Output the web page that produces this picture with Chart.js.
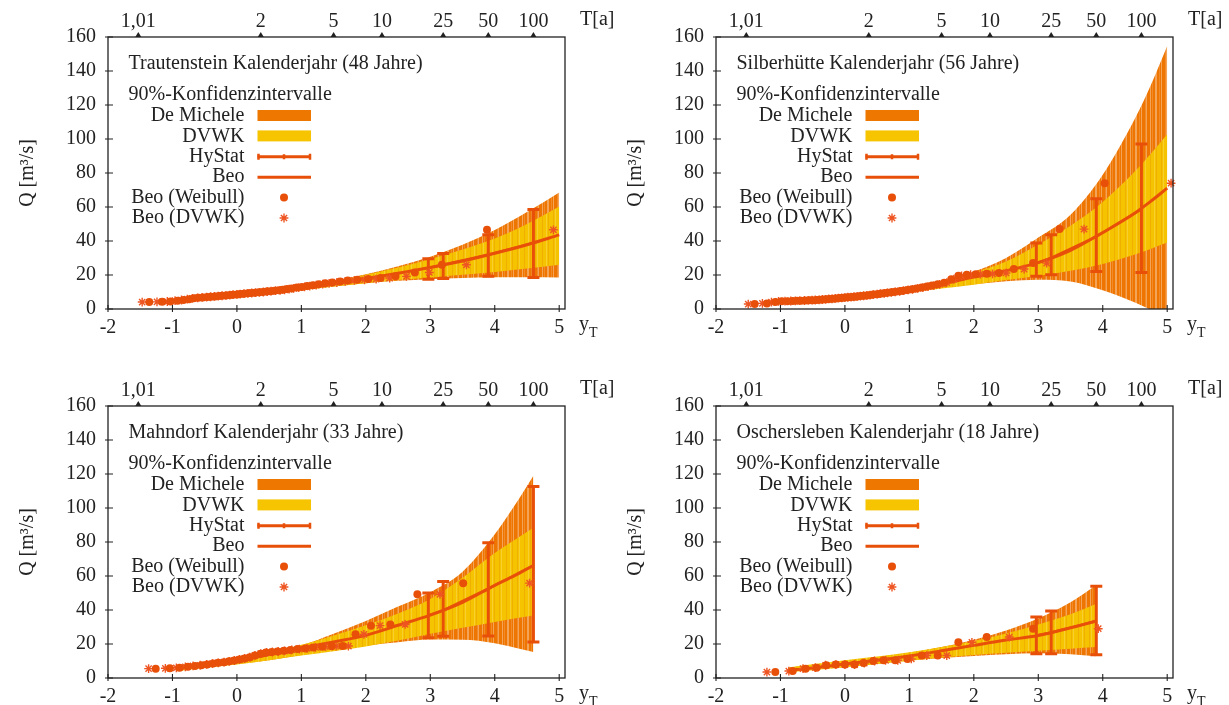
<!DOCTYPE html>
<html lang="de">
<head>
<meta charset="UTF-8">
<title>Hochwasserstatistik Kalenderjahr</title>
<script src="https://cdn.jsdelivr.net/npm/chart.js@4.4.1/dist/chart.umd.min.js"></script>
<style>
body { margin: 0; background: #fff; width: 1229px; height: 705px; position: relative; overflow: hidden; }
canvas { position: absolute; }
</style>
</head>
<body>
<canvas id="c1" width="614" height="369" style="left:0;top:0"></canvas>
<canvas id="c2" width="621" height="369" style="left:608px;top:0"></canvas>
<canvas id="c3" width="614" height="336" style="left:0;top:369px"></canvas>
<canvas id="c4" width="621" height="336" style="left:608px;top:369px"></canvas>
<script>
// Achsen
const xTicks = [-2, -1, 0, 1, 2, 3, 4, 5];
const yTicks = [0, 20, 40, 60, 80, 100, 120, 140, 160];
const returnPeriods = ['1,01', '2', '5', '10', '25', '50', '100'];
const returnPeriodPos = [-1.53, 0.37, 1.50, 2.25, 3.20, 3.90, 4.60];

// Trautenstein (48 Jahre)
const trTitle = 'Trautenstein Kalenderjahr (48 Jahre)';
const trQ = [4.1, 4.2, 4.4, 4.9, 5.3, 5.8, 6.3, 6.6, 6.8, 7.0, 7.2, 7.4, 7.6, 7.8, 8.0, 8.2, 8.4, 8.6, 8.8, 9.0,
  9.2, 9.4, 9.6, 9.8, 10.0, 10.3, 10.5, 10.8, 11.0, 11.3, 11.7, 12.1, 12.6, 13.0, 13.5, 14.0, 14.6, 15.1, 15.6, 16.2,
  16.8, 17.2, 17.6, 18.2, 19.2, 21.5, 26.0, 46.6];
const trWeibullX = [-1.36, -1.16, -1.03, -0.92, -0.83, -0.74, -0.67, -0.60, -0.53, -0.46, -0.40, -0.34, -0.28, -0.23,
  -0.17, -0.11, -0.06, 0.00, 0.05, 0.11, 0.17, 0.22, 0.28, 0.34, 0.40, 0.46, 0.52, 0.58, 0.65, 0.71, 0.78, 0.85, 0.93,
  1.01, 1.09, 1.18, 1.27, 1.37, 1.48, 1.60, 1.72, 1.87, 2.04, 2.23, 2.46, 2.76, 3.18, 3.88];
const trDvwkX = [-1.47, -1.24, -1.08, -0.96, -0.86, -0.77, -0.69, -0.61, -0.54, -0.47, -0.41, -0.35, -0.29, -0.23,
  -0.17, -0.11, -0.06, 0.00, 0.05, 0.11, 0.17, 0.23, 0.29, 0.35, 0.41, 0.47, 0.53, 0.60, 0.67, 0.74, 0.81, 0.88, 0.96,
  1.05, 1.13, 1.23, 1.33, 1.43, 1.55, 1.68, 1.82, 1.98, 2.16, 2.37, 2.63, 2.985, 3.56, 4.91];
const trCurveX = [-0.95, -0.5, 0, 0.5, 1, 1.5, 2, 2.5, 3, 3.5, 4, 4.5, 5];
const trBeo = [4.8, 6.6, 8.4, 10.2, 12.3, 14.9, 17.9, 21.0, 24.4, 28.2, 32.8, 37.8, 43.6];
const trDvwkHigh = [5.6, 7.4, 9.3, 11.2, 13.6, 16.6, 20.2, 24.4, 29.4, 35.0, 41.5, 50.0, 60.3];
const trDvwkLow = [3.9, 5.6, 7.4, 9.1, 11.0, 13.2, 15.2, 17.0, 18.6, 20.2, 21.8, 23.8, 26.0];
const trDmHigh = [5.4, 7.2, 9.1, 11.0, 13.5, 16.6, 20.5, 25.2, 30.8, 37.8, 46.5, 57.0, 68.5];
const trDmLow = [4.1, 5.8, 7.6, 9.3, 11.2, 13.3, 15.2, 16.6, 17.5, 18.2, 18.7, 18.7, 18.6];
const trHyX = [2.97, 3.20, 3.90, 4.60];
const trHyMid = [24.2, 26.0, 31.9, 38.9];
const trHyLow = [17.5, 18.0, 19.2, 18.6];
const trHyHigh = [29.6, 32.6, 43.7, 58.5];

// Silberhütte (56 Jahre)
const siTitle = 'Silberhütte Kalenderjahr (56 Jahre)';
const siQ = [2.9, 3.3, 4.1, 4.5, 4.6, 4.7, 4.8, 4.9, 5.0, 5.1, 5.2, 5.3, 5.4, 5.6, 5.7, 5.9, 6.0, 6.2, 6.4, 6.5,
  6.7, 6.9, 7.0, 7.2, 7.4, 7.6, 7.8, 8.0, 8.2, 8.5, 8.7, 9.0, 9.2, 9.5, 9.8, 10.1, 10.4, 10.8, 11.2, 11.6,
  12.1, 12.6, 13.2, 13.8, 14.5, 15.5, 17.5, 19.5, 20.2, 20.5, 20.7, 21.2, 23.5, 27.0, 47.0, 74.0];
const siWeibullX = [-1.40, -1.21, -1.08, -0.98, -0.89, -0.81, -0.74, -0.68, -0.61, -0.55, -0.50, -0.44, -0.39, -0.34,
  -0.29, -0.24, -0.19, -0.14, -0.09, -0.05, 0.00, 0.05, 0.10, 0.15, 0.19, 0.24, 0.29, 0.34, 0.39, 0.44, 0.50, 0.55,
  0.60, 0.66, 0.72, 0.78, 0.84, 0.90, 0.97, 1.04, 1.11, 1.19, 1.27, 1.35, 1.44, 1.54, 1.65, 1.76, 1.89, 2.03, 2.20,
  2.39, 2.62, 2.92, 3.33, 4.03];
const siDvwkX = [-1.50, -1.28, -1.14, -1.03, -0.93, -0.84, -0.77, -0.70, -0.63, -0.57, -0.51, -0.46, -0.40, -0.35,
  -0.30, -0.25, -0.20, -0.15, -0.10, -0.05, 0.00, 0.045, 0.095, 0.14, 0.19, 0.24, 0.29, 0.34, 0.39, 0.44, 0.50, 0.55,
  0.61, 0.66, 0.72, 0.78, 0.85, 0.91, 0.98, 1.05, 1.13, 1.21, 1.29, 1.38, 1.47, 1.58, 1.69, 1.81, 1.95, 2.10, 2.29,
  2.50, 2.78, 3.13, 3.71, 5.06];
const siCurveX = [-0.92, -0.5, 0, 0.5, 1, 1.5, 2, 2.5, 3, 3.5, 4, 4.5, 4.75, 5];
const siBeo = [4.5, 5.8, 7.4, 9.0, 11.3, 14.8, 18.8, 22.5, 27.3, 34.5, 45.0, 56.5, 63.5, 71.1];
const siDvwkHigh = [5.3, 6.6, 8.4, 10.4, 13.0, 16.5, 21.5, 28.0, 38.0, 49.0, 63.0, 81.0, 91.5, 102.8];
const siDvwkLow = [2.8, 4.4, 6.0, 7.6, 9.6, 12.0, 14.3, 17.0, 19.5, 22.5, 26.5, 32.0, 35.5, 39.1];
const siDmHigh = [5.0, 6.4, 8.0, 10.0, 12.8, 16.5, 22.0, 30.0, 42.0, 55.5, 79.0, 112.0, 132.0, 154.7];
const siDmLow = [3.0, 4.7, 6.3, 8.0, 10.0, 12.5, 14.5, 16.3, 17.2, 16.2, 11.0, 3.8, -0.5, -5.0];
const siHyX = [2.97, 3.20, 3.90, 4.60];
const siHyMid = [27.0, 30.0, 42.5, 58.7];
const siHyLow = [19.2, 20.2, 22.1, 21.5];
const siHyHigh = [38.8, 43.7, 64.8, 97.1];

// Mahndorf (33 Jahre)
const maTitle = 'Mahndorf Kalenderjahr (33 Jahre)';
const maQ = [5.5, 5.7, 6.0, 6.6, 7.1, 7.5, 8.0, 8.5, 8.9, 9.3, 9.8, 10.3, 10.9, 11.5, 12.2, 13.3, 14.3, 15.0, 15.3,
  15.6, 16.0, 16.5, 17.0, 17.4, 18.0, 18.4, 18.7, 18.8, 25.7, 30.8, 31.5, 49.2, 55.8];
const maWeibullX = [-1.26, -1.04, -0.89, -0.76, -0.65, -0.55, -0.46, -0.37, -0.29, -0.20, -0.12, -0.04, 0.04, 0.12,
  0.20, 0.28, 0.37, 0.45, 0.54, 0.63, 0.73, 0.83, 0.94, 1.06, 1.18, 1.32, 1.47, 1.64, 1.84, 2.08, 2.38, 2.80, 3.51];
const maDvwkX = [-1.37, -1.11, -0.94, -0.80, -0.68, -0.57, -0.47, -0.38, -0.29, -0.20, -0.12, -0.04, 0.04, 0.12,
  0.20, 0.28, 0.37, 0.46, 0.55, 0.64, 0.74, 0.85, 0.97, 1.09, 1.22, 1.37, 1.54, 1.73, 1.97, 2.22, 2.61, 3.15, 4.54];
const maCurveX = [-0.93, -0.5, 0, 0.5, 1, 1.5, 2, 2.5, 3, 3.5, 4, 4.3, 4.6];
const maBeo = [6.1, 8.0, 10.4, 13.8, 17.6, 21.2, 25.1, 31.0, 37.0, 44.5, 54.5, 60.0, 66.2];
const maDvwkHigh = [7.3, 9.4, 11.8, 15.5, 19.5, 25.0, 31.0, 38.0, 46.5, 59.0, 73.5, 81.0, 88.4];
const maDvwkLow = [4.0, 6.0, 8.0, 10.5, 13.2, 15.8, 18.5, 22.0, 26.0, 29.5, 33.0, 35.0, 36.8];
const maDmHigh = [7.5, 9.3, 11.4, 15.3, 19.2, 26.0, 33.5, 42.0, 50.5, 62.5, 84.5, 101.0, 119.0];
const maDmLow = [4.2, 6.3, 8.3, 10.5, 13.5, 16.5, 19.0, 21.0, 22.6, 22.5, 20.5, 18.0, 15.3];
const maHyX = [2.97, 3.20, 3.90, 4.60];
const maHyMid = [36.8, 39.8, 52.5, 66.2];
const maHyLow = [23.7, 24.5, 24.7, 21.2];
const maHyHigh = [50.0, 56.8, 79.6, 112.6];

// Oschersleben (18 Jahre)
const osTitle = 'Oschersleben Kalenderjahr (18 Jahre)';
const osQ = [3.5, 4.1, 5.5, 6.1, 7.5, 7.9, 7.9, 7.9, 8.8, 10.0, 10.4, 10.4, 11.2, 13.2, 13.2, 21.0, 24.1, 29.0];
const osWeibullX = [-1.08, -0.81, -0.61, -0.44, -0.29, -0.14, 0.00, 0.15, 0.29, 0.44, 0.60, 0.78, 0.97, 1.19, 1.44,
  1.76, 2.20, 2.92];
const osDvwkX = [-1.21, -0.87, -0.65, -0.46, -0.30, -0.14, 0.00, 0.15, 0.30, 0.46, 0.63, 0.82, 1.03, 1.27, 1.58,
  1.97, 2.55, 3.93];
const osCurveX = [-0.88, -0.5, 0, 0.5, 1, 1.5, 2, 2.5, 3, 3.5, 3.9];
const osBeo = [4.5, 5.9, 8.2, 10.5, 13.0, 16.0, 19.2, 22.3, 25.0, 29.5, 33.5];
const osDvwkHigh = [6.2, 8.1, 10.5, 12.6, 15.2, 18.2, 21.8, 26.2, 31.5, 37.5, 43.7];
const osDvwkLow = [3.3, 4.6, 6.3, 8.2, 10.1, 12.0, 13.5, 14.8, 16.0, 17.2, 18.2];
const osDmHigh = [6.0, 7.8, 10.0, 12.2, 14.8, 18.2, 22.5, 28.0, 35.0, 44.5, 54.5];
const osDmLow = [3.5, 4.8, 6.5, 8.3, 10.2, 11.8, 13.0, 14.0, 14.5, 14.0, 12.8];
const osHyX = [2.97, 3.20, 3.90];
const osHyMid = [25.0, 26.8, 33.5];
const osHyLow = [14.3, 14.3, 13.7];
const osHyHigh = [35.9, 39.4, 53.9];

const FONT = "'Liberation Serif', 'Times New Roman', serif";
const RED = '#E8500A';
const STAR_RED = '#EE5522';
const TEXT = '#222';
const PLOT_RIGHT = 565, PLOT_TOP = 37, PLOT_BOTTOM = 309, PLOT_LEFT = 108;

function pts(xs, ys) {
  return xs.map((x, i) => ({ x: x, y: ys[i] }));
}

// gnuplot zeichnet die Bänder als viele senkrechte Striche -> Streifenmuster
function stripes(ctx, cols) {
  const c = document.createElement('canvas');
  c.width = cols.length; c.height = 4;
  const g = c.getContext('2d');
  cols.forEach((col, i) => { g.fillStyle = col; g.fillRect(i, 0, 1, 4); });
  return ctx.createPattern(c, 'repeat');
}

function drawStar(ctx, x, y, r) {
  ctx.beginPath();
  ctx.moveTo(x - r, y); ctx.lineTo(x + r, y);
  ctx.moveTo(x, y - r); ctx.lineTo(x, y + r);
  const d = r * 0.7071;
  ctx.moveTo(x - d, y - d); ctx.lineTo(x + d, y + d);
  ctx.moveTo(x - d, y + d); ctx.lineTo(x + d, y - d);
  ctx.stroke();
}

function dekoPlugin(p) {
  return {
    id: 'deko',
    afterDatasetDraw(chart, args) {
      if (args.index !== 3) return;
      const ctx = chart.ctx, xs = chart.scales.x, ys = chart.scales.y;
      ctx.save();
      ctx.strokeStyle = RED;
      ctx.lineWidth = 3;
      p.hyX.forEach((v, i) => {
        const px = xs.getPixelForValue(v);
        const lo = ys.getPixelForValue(p.hyLow[i]);
        const hi = ys.getPixelForValue(p.hyHigh[i]);
        ctx.beginPath();
        ctx.moveTo(px, lo); ctx.lineTo(px, hi);
        ctx.moveTo(px - 6, lo); ctx.lineTo(px + 6, lo);
        ctx.moveTo(px - 6, hi); ctx.lineTo(px + 6, hi);
        ctx.stroke();
      });
      ctx.restore();
    },
    afterDraw(chart) {
      const ctx = chart.ctx, ca = chart.chartArea;
      const xs = chart.scales.x, ys = chart.scales.y;
      const L = ca.left, T = ca.top, R = ca.right, B = ca.bottom;
      ctx.save();
      // Rahmen
      ctx.strokeStyle = '#222';
      ctx.lineWidth = 1.3;
      ctx.strokeRect(L, T, R - L, B - T);
      // Teilstriche
      ctx.lineWidth = 1.1;
      ctx.beginPath();
      xTicks.forEach(v => {
        const px = xs.getPixelForValue(v);
        ctx.moveTo(px, B + 3); ctx.lineTo(px, B - 4);
      });
      yTicks.forEach(v => {
        const py = ys.getPixelForValue(v);
        ctx.moveTo(L - 3, py); ctx.lineTo(L + 5, py);
      });
      ctx.stroke();
      // Dreiecke der Jährlichkeiten
      ctx.fillStyle = '#222';
      returnPeriodPos.forEach(v => {
        const px = xs.getPixelForValue(v);
        ctx.beginPath();
        ctx.moveTo(px - 3, T); ctx.lineTo(px + 3, T); ctx.lineTo(px, T - 5);
        ctx.closePath(); ctx.fill();
      });
      // Achsenbeschriftungen
      ctx.fillStyle = TEXT;
      ctx.textBaseline = 'middle';
      ctx.textAlign = 'left';
      ctx.font = '20px ' + FONT;
      ctx.fillText('T[a]', L + 472, T - 17);
      ctx.fillText('y', L + 471, B + 16);
      ctx.font = '14px ' + FONT;
      ctx.fillText('T', L + 481, B + 24);
      // Titel und Legende
      ctx.font = '20px ' + FONT;
      ctx.fillText(p.title, L + 20.5, T + 26.5);
      ctx.fillText('90%-Konfidenzintervalle', L + 20.5, T + 58);
      const names = ['De Michele', 'DVWK', 'HyStat', 'Beo', 'Beo (Weibull)', 'Beo (DVWK)'];
      ctx.textAlign = 'right';
      const rowY = names.map((n, i) => T + 79 + i * 20.4);
      names.forEach((n, i) => ctx.fillText(n, L + 136.5, rowY[i]));
      const s0 = L + 149.5, s1 = L + 203, sm = L + 176;
      ctx.fillStyle = '#EE7700';
      ctx.fillRect(s0, rowY[0] - 6, s1 - s0, 11);
      ctx.fillStyle = '#F6C400';
      ctx.fillRect(s0, rowY[1] - 6, s1 - s0, 11);
      ctx.strokeStyle = RED;
      ctx.lineWidth = 3;
      ctx.beginPath();
      ctx.moveTo(s0, rowY[2]); ctx.lineTo(s1, rowY[2]);
      ctx.moveTo(s0, rowY[3]); ctx.lineTo(s1, rowY[3]);
      ctx.stroke();
      ctx.lineWidth = 2.5;
      ctx.beginPath();
      ctx.moveTo(s0 + 1, rowY[2] - 3); ctx.lineTo(s0 + 1, rowY[2] + 3);
      ctx.moveTo(s1 - 1, rowY[2] - 3); ctx.lineTo(s1 - 1, rowY[2] + 3);
      ctx.moveTo(sm, rowY[2] - 2.5); ctx.lineTo(sm, rowY[2] + 2.5);
      ctx.stroke();
      ctx.fillStyle = RED;
      ctx.beginPath();
      ctx.arc(sm, rowY[4], 4, 0, Math.PI * 2);
      ctx.fill();
      ctx.strokeStyle = STAR_RED;
      ctx.lineWidth = 1.4;
      drawStar(ctx, sm, rowY[5], 4.4);
      ctx.restore();
    }
  };
}

function makePanel(id, p) {
  const canvas = document.getElementById(id);
  const ctx = canvas.getContext('2d');
  const W = canvas.width, H = canvas.height;
  const O = '#EE7600', Lo = '#F4A458', Mo = '#F08A2A';
  const Y = '#F6C300', Dy = '#EFB000', Py = '#F8CF30';
  const orange = stripes(ctx, [O, O, Lo, O, Mo, O, O, Lo, Lo, O, O, Mo, O, Lo, O, O, O, Mo, Lo, O]);
  const yellow = stripes(ctx, [Y, Y, Dy, Y, Y, Y, Py, Y, Dy, Y, Y, Y, Y, Dy, Y, Py, Y, Y]);
  const tickFont = { family: FONT, size: 20, lineHeight: 1.2 };
  const curve = { pointRadius: 0, cubicInterpolationMode: 'monotone' };

  new Chart(ctx, {
    type: 'line',
    data: {
      datasets: [
        { label: 'Beo (Weibull)', data: pts(p.weibullX, p.q), showLine: false, pointStyle: 'circle',
          pointRadius: 4, pointBackgroundColor: RED, pointBorderColor: RED, pointBorderWidth: 0, clip: 8 },
        { label: 'Beo (DVWK)', data: pts(p.dvwkX, p.q), showLine: false, pointStyle: 'star',
          pointRadius: 4.4, pointBorderColor: STAR_RED, pointBorderWidth: 1.4, clip: 8 },
        Object.assign({ label: 'Beo', data: pts(p.curveX, p.beo), borderColor: RED, borderWidth: 3, fill: false }, curve),
        { label: 'HyStat', data: pts(p.hyX, p.hyMid), borderColor: RED, borderWidth: 2.5, pointRadius: 0, fill: false },
        Object.assign({ label: 'DVWK oben', data: pts(p.curveX, p.dvwkHigh), borderColor: 'transparent', borderWidth: 0,
          backgroundColor: yellow, fill: '+1' }, curve),
        Object.assign({ label: 'DVWK unten', data: pts(p.curveX, p.dvwkLow), borderColor: 'transparent', borderWidth: 0,
          fill: false }, curve),
        Object.assign({ label: 'De Michele oben', data: pts(p.curveX, p.dmHigh), borderColor: 'transparent', borderWidth: 0,
          backgroundColor: orange, fill: '+1' }, curve),
        Object.assign({ label: 'De Michele unten', data: pts(p.curveX, p.dmLow), borderColor: 'transparent', borderWidth: 0,
          fill: false }, curve)
      ]
    },
    options: {
      responsive: false,
      animation: false,
      events: [],
      layout: { padding: { left: 0, top: 0, bottom: 0, right: W - PLOT_RIGHT } },
      plugins: { legend: { display: false }, tooltip: { enabled: false } },
      scales: {
        x: {
          type: 'linear', position: 'bottom', min: -2, max: 5.09,
          grid: { display: false, drawTicks: false }, border: { display: false },
          afterBuildTicks: s => { s.ticks = xTicks.map(v => ({ value: v })); },
          afterFit: s => { s.height = H - PLOT_BOTTOM; },
          ticks: { padding: 7, color: TEXT, font: tickFont, autoSkip: false, maxRotation: 0,
            callback: v => String(v) }
        },
        t: {
          type: 'linear', position: 'top', min: -2, max: 5.09,
          grid: { display: false, drawTicks: false }, border: { display: false },
          afterBuildTicks: s => { s.ticks = returnPeriodPos.map(v => ({ value: v })); },
          afterFit: s => { s.height = PLOT_TOP; },
          ticks: { padding: 3, color: TEXT, font: tickFont, autoSkip: false, maxRotation: 0,
            callback: (v, i) => returnPeriods[i] }
        },
        y: {
          type: 'linear', position: 'left', min: 0, max: 160,
          grid: { display: false, drawTicks: false }, border: { display: false },
          afterBuildTicks: s => { s.ticks = yTicks.map(v => ({ value: v })); },
          afterFit: s => { s.width = PLOT_LEFT; },
          ticks: { padding: 12, color: TEXT, font: tickFont, callback: v => String(v) },
          title: { display: true, text: 'Q [m³/s]', color: TEXT, font: tickFont, padding: { top: 16, bottom: 0 } }
        }
      }
    },
    plugins: [dekoPlugin(p)]
  });
}

makePanel('c1', { title: trTitle, q: trQ, weibullX: trWeibullX, dvwkX: trDvwkX, curveX: trCurveX, beo: trBeo,
  dvwkHigh: trDvwkHigh, dvwkLow: trDvwkLow, dmHigh: trDmHigh, dmLow: trDmLow,
  hyX: trHyX, hyMid: trHyMid, hyLow: trHyLow, hyHigh: trHyHigh });
makePanel('c2', { title: siTitle, q: siQ, weibullX: siWeibullX, dvwkX: siDvwkX, curveX: siCurveX, beo: siBeo,
  dvwkHigh: siDvwkHigh, dvwkLow: siDvwkLow, dmHigh: siDmHigh, dmLow: siDmLow,
  hyX: siHyX, hyMid: siHyMid, hyLow: siHyLow, hyHigh: siHyHigh });
makePanel('c3', { title: maTitle, q: maQ, weibullX: maWeibullX, dvwkX: maDvwkX, curveX: maCurveX, beo: maBeo,
  dvwkHigh: maDvwkHigh, dvwkLow: maDvwkLow, dmHigh: maDmHigh, dmLow: maDmLow,
  hyX: maHyX, hyMid: maHyMid, hyLow: maHyLow, hyHigh: maHyHigh });
makePanel('c4', { title: osTitle, q: osQ, weibullX: osWeibullX, dvwkX: osDvwkX, curveX: osCurveX, beo: osBeo,
  dvwkHigh: osDvwkHigh, dvwkLow: osDvwkLow, dmHigh: osDmHigh, dmLow: osDmLow,
  hyX: osHyX, hyMid: osHyMid, hyLow: osHyLow, hyHigh: osHyHigh });
</script>
</body>
</html>
